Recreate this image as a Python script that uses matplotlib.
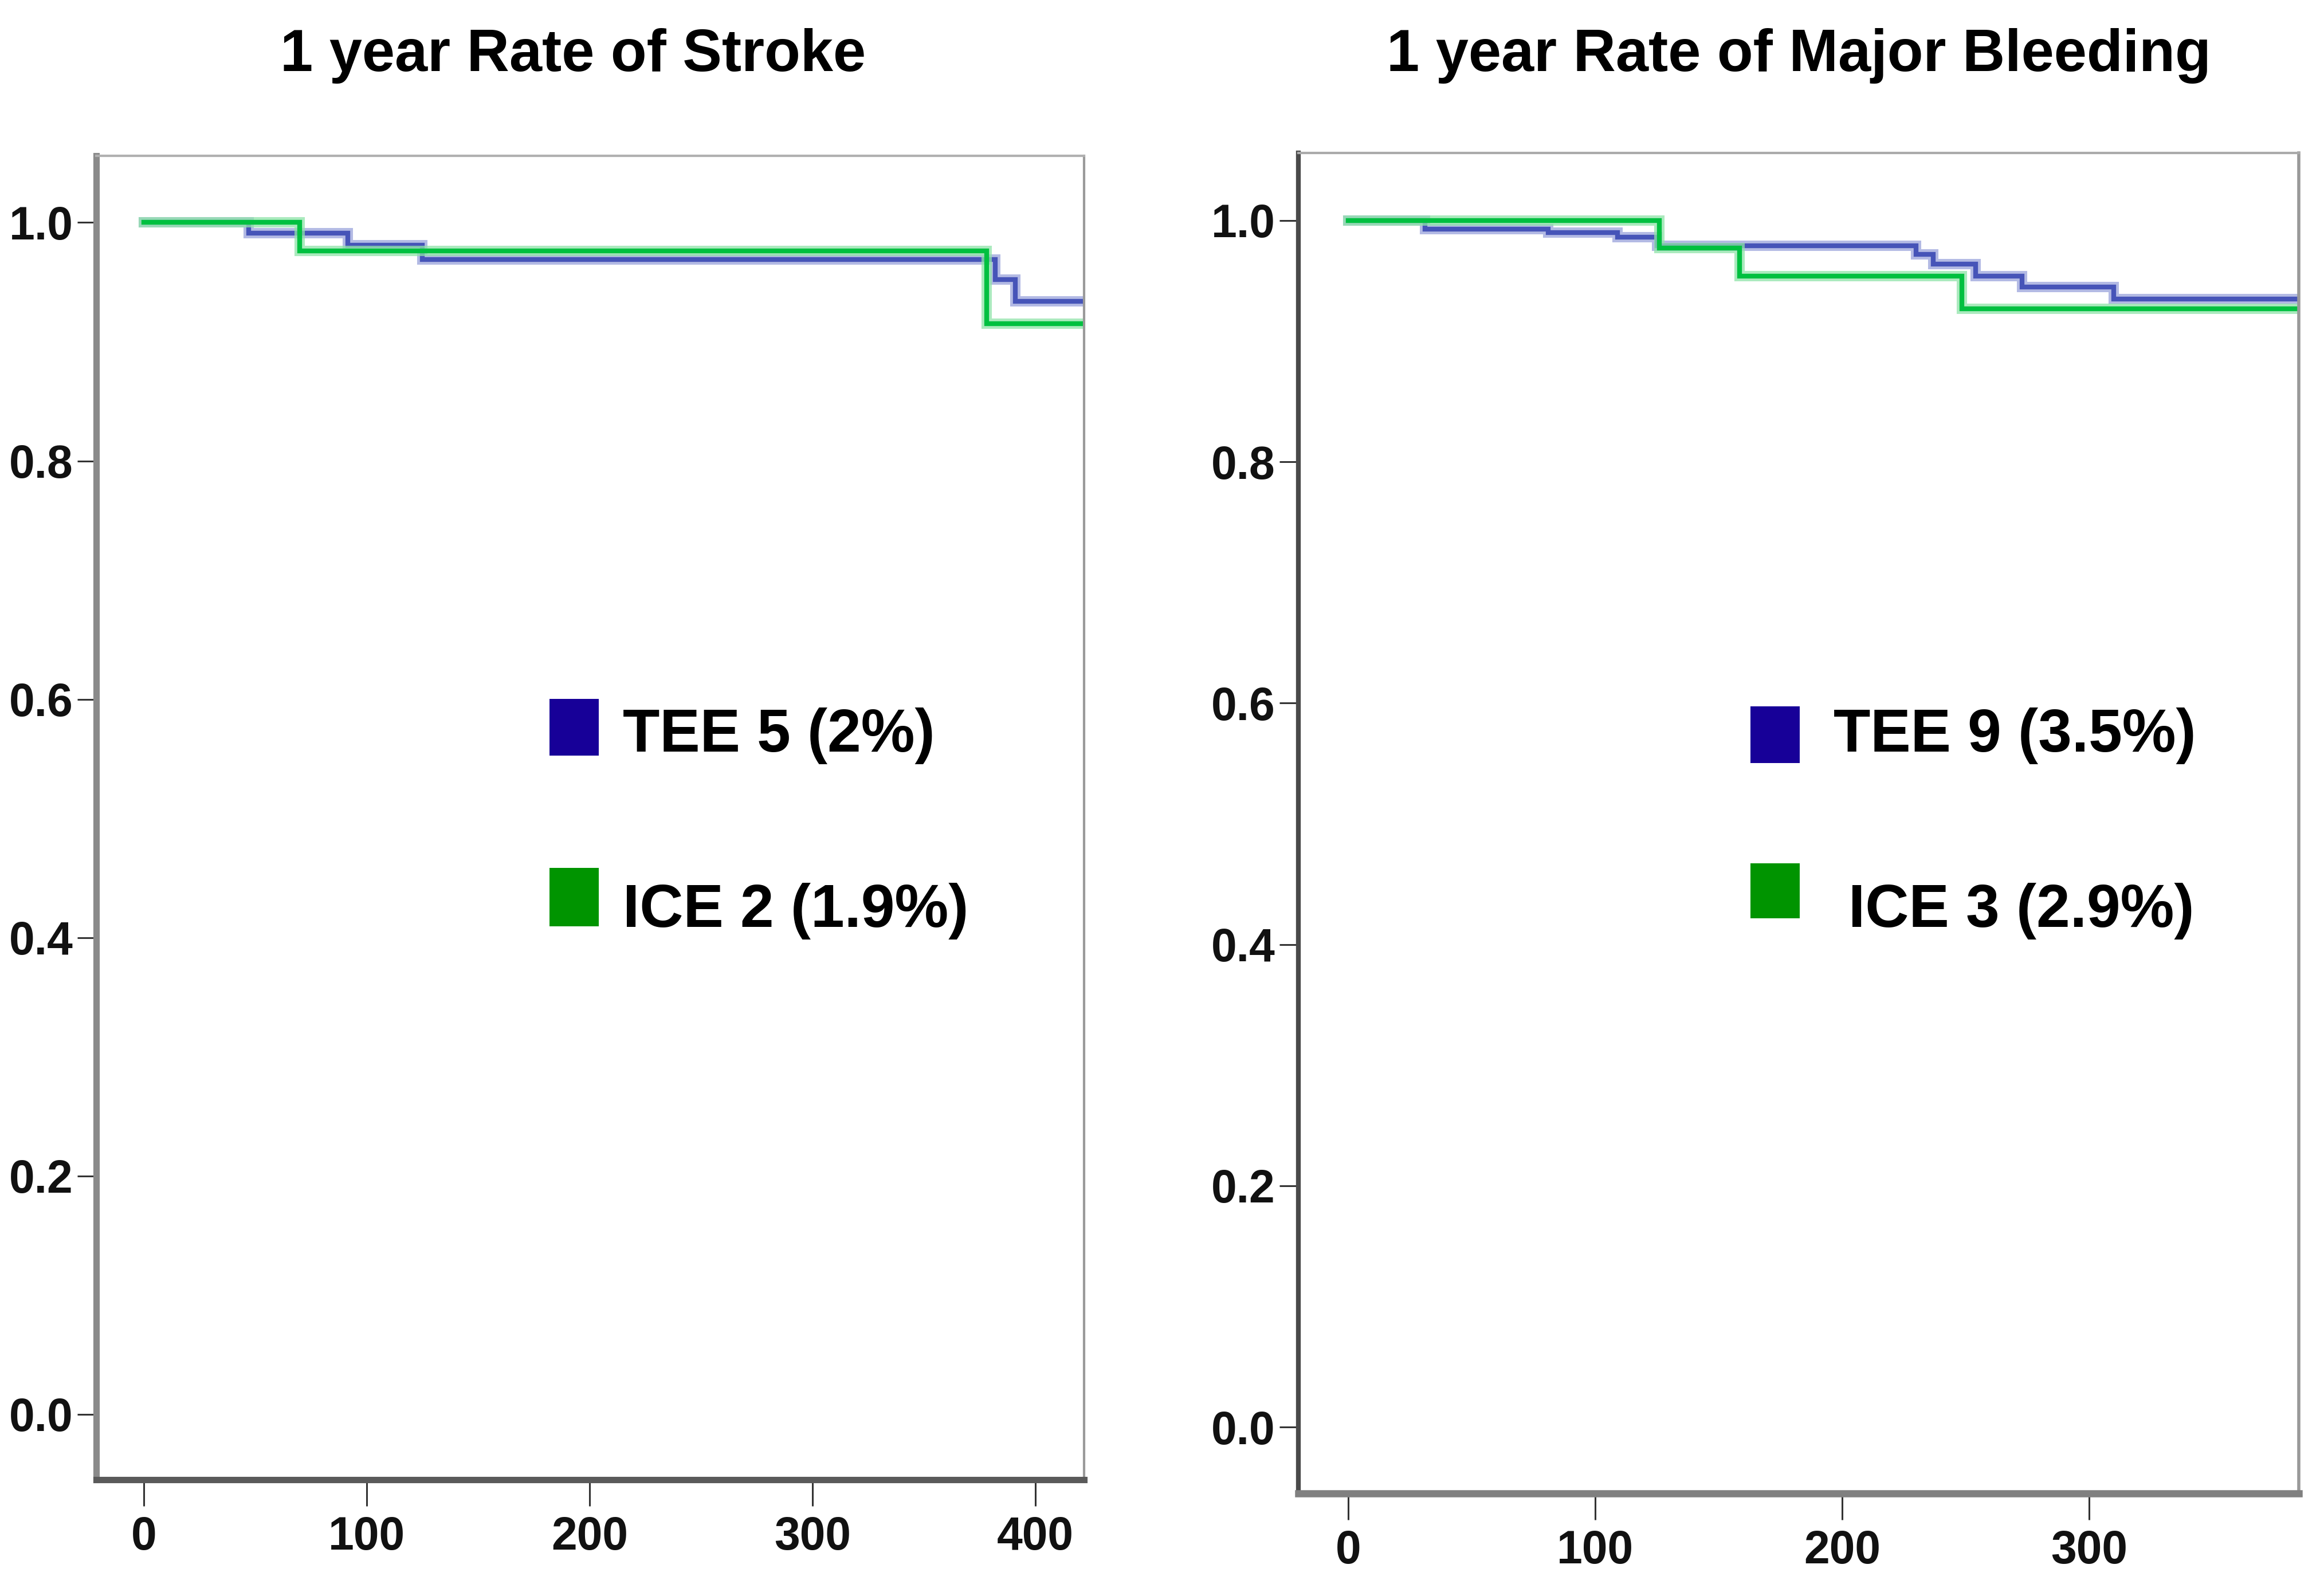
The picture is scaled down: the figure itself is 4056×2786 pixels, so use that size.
import matplotlib
matplotlib.use('Agg')
import matplotlib.pyplot as plt
from matplotlib.patches import Rectangle
from matplotlib import font_manager

names = {f.name for f in font_manager.fontManager.ttflist}
fam = [n for n in ['Liberation Sans Narrow', 'Liberation Sans', 'DejaVu Sans'] if n in names]
plt.rcParams['font.family'] = fam

# ---------------- data ----------------
titles = ["1 year Rate of Stroke", "1 year Rate of Major Bleeding"]

stroke_tee_t = [0, 47, 91.5, 125, 382, 391, 425]
stroke_tee_s = [1.0, 0.991, 0.981, 0.969, 0.952, 0.934, 0.934]
stroke_ice_t = [0, 70, 378, 425]
stroke_ice_s = [1.0, 0.976, 0.915, 0.915]

bleed_tee_t = [0, 31, 81, 109, 125, 230, 237, 254, 273, 310, 390]
bleed_tee_s = [1.0, 0.993, 0.990, 0.986, 0.979, 0.972, 0.964, 0.954, 0.945, 0.935, 0.935]
bleed_ice_t = [0, 126, 158.5, 248.5, 390]
bleed_ice_s = [1.0, 0.977, 0.954, 0.927, 0.927]

stroke_labels = ["TEE 5 (2%)", "ICE 2 (1.9%)"]
bleed_labels = ["TEE 9 (3.5%)", "ICE 3 (2.9%)"]

y_ticks = [0.0, 0.2, 0.4, 0.6, 0.8, 1.0]
y_ticklabels = ["0.0", "0.2", "0.4", "0.6", "0.8", "1.0"]
stroke_xticks = [0, 100, 200, 300, 400]
bleed_xticks = [0, 100, 200, 300]

# ---------------- style ----------------
W, H = 4056, 2786
fig = plt.figure(figsize=(W / 100, H / 100), dpi=100)
fig.patch.set_facecolor('white')

def px_axes(l, r, t, b):
    return fig.add_axes([l / W, 1 - b / H, (r - l) / W, (b - t) / H])

ax1 = px_axes(168, 1892, 272, 2583)
ax2 = px_axes(2266, 4012, 267, 2607)

BLUE_CORE = '#4654b8'
BLUE_HALO = '#9aa3dc'
GREEN_CORE = '#00c040'
GREEN_HALO = '#8fe3a8'
SQ_BLUE = '#170098'
SQ_GREEN = '#009400'

def draw_curve(ax, t, s, core, halo):
    ax.step(t, s, where='post', color=halo, lw=13, alpha=0.75, solid_joinstyle='miter')
    ax.step(t, s, where='post', color=core, lw=6, solid_joinstyle='miter')

for ax, xlim, xt in [(ax1, (-21.3, 421.8), stroke_xticks), (ax2, (-20.2, 385), bleed_xticks)]:
    ax.set_xlim(*xlim)
    ax.set_ylim(-0.055, 1.056)
    ax.set_xticks(xt)
    ax.set_xticklabels([str(v) for v in xt])
    ax.set_yticks(y_ticks)
    ax.set_yticklabels(y_ticklabels)
    ax.tick_params(axis='y', direction='out', length=24, width=2.2, pad=5,
                   labelsize=58, colors='#333333', labelcolor='#111111')
    ax.tick_params(axis='x', direction='out', length=33, width=2.2, pad=12,
                   labelsize=58, colors='#333333', labelcolor='#111111')
    for lab in ax.get_xticklabels() + ax.get_yticklabels():
        lab.set_fontweight('bold')

draw_curve(ax1, stroke_tee_t, stroke_tee_s, BLUE_CORE, BLUE_HALO)
draw_curve(ax1, stroke_ice_t, stroke_ice_s, GREEN_CORE, GREEN_HALO)
draw_curve(ax2, bleed_tee_t, bleed_tee_s, BLUE_CORE, BLUE_HALO)
draw_curve(ax2, bleed_ice_t, bleed_ice_s, GREEN_CORE, GREEN_HALO)

# spines
ax1.spines['left'].set_color('#8a8a8a'); ax1.spines['left'].set_linewidth(8)
ax1.spines['bottom'].set_color('#5a5a5a'); ax1.spines['bottom'].set_linewidth(8)
ax1.spines['top'].set_color('#b0b0b0'); ax1.spines['top'].set_linewidth(3)
ax1.spines['right'].set_color('#9a9a9a'); ax1.spines['right'].set_linewidth(3)
ax2.spines['left'].set_color('#4a4a4a'); ax2.spines['left'].set_linewidth(6)
ax2.spines['bottom'].set_color('#808080'); ax2.spines['bottom'].set_linewidth(9)
ax2.spines['top'].set_color('#aaaaaa'); ax2.spines['top'].set_linewidth(3)
ax2.spines['right'].set_color('#999999'); ax2.spines['right'].set_linewidth(4)

# titles
fig.text(1000 / W, 1 - 124 / H, titles[0], ha='center', va='baseline',
         fontsize=74, fontweight='bold')
fig.text(3139 / W, 1 - 124 / H, titles[1], ha='center', va='baseline',
         fontsize=74, fontweight='bold')

# legends (inside axes)
def legend_item(ax, x_sq, w_sq, y_bot, y_top, color, tx, ty, label):
    ax.add_patch(Rectangle((x_sq, y_bot), w_sq, y_top - y_bot, transform=ax.transAxes,
                           facecolor=color, edgecolor='none', clip_on=False))
    ax.text(tx, ty, label, transform=ax.transAxes, ha='left', va='baseline',
            fontsize=76, fontweight='bold', color='black')

legend_item(ax1, 0.459, 0.0499, 0.547, 0.590, SQ_BLUE, 0.533, 0.550, stroke_labels[0])
legend_item(ax1, 0.459, 0.0499, 0.418, 0.462, SQ_GREEN, 0.533, 0.4176, stroke_labels[1])
legend_item(ax2, 0.452, 0.0493, 0.545, 0.587, SQ_BLUE, 0.535, 0.5534, bleed_labels[0])
legend_item(ax2, 0.452, 0.0493, 0.429, 0.470, SQ_GREEN, 0.550, 0.4226, bleed_labels[1])

fig.savefig('out.png', dpi=100, facecolor='white')
